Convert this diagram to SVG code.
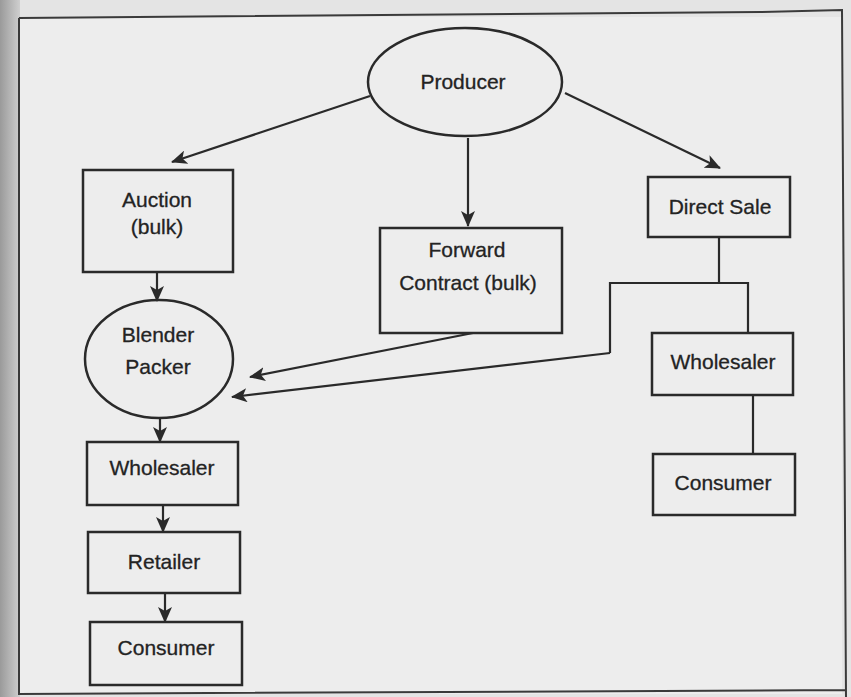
<svg xmlns="http://www.w3.org/2000/svg" width="851" height="697" viewBox="0 0 851 697">
  <defs>
    <linearGradient id="edge" x1="0" y1="0" x2="1" y2="0">
      <stop offset="0" stop-color="#9a9a9a"/>
      <stop offset="1" stop-color="#cfcfcf"/>
    </linearGradient>
    <marker id="arr" markerUnits="userSpaceOnUse" markerWidth="16" markerHeight="14" refX="15" refY="7" orient="auto">
      <path d="M0,0 L16,7 L0,14 L4,7 Z" fill="#2a2a2a"/>
    </marker>
    <style>
      .box { fill: none; stroke: #2a2a2a; stroke-width: 2.5; }
      .line { fill: none; stroke: #2a2a2a; stroke-width: 2.2; }
      .arrow { fill: none; stroke: #2a2a2a; stroke-width: 2.2; marker-end: url(#arr); }
      .lbl { font-family: "Liberation Sans", Arial, sans-serif; font-size: 21px; fill: #232323; stroke: #232323; stroke-width: 0.3; text-anchor: middle; }
    </style>
  </defs>
  <rect x="0" y="0" width="851" height="697" fill="#e4e4e4"/>
  <rect x="0" y="0" width="20" height="697" fill="url(#edge)"/>
  <rect x="19" y="17" width="823" height="677" fill="#ededed"/>
  <path d="M19,18 L760,12 L842,10 L846,697 M19,18 L19,694 L846,690" fill="none" stroke="#3a3a3a" stroke-width="2"/>

  <g id="connectors">
    <line class="arrow" x1="370" y1="96" x2="172" y2="162"/>
    <line class="arrow" x1="468" y1="138" x2="468" y2="226"/>
    <line class="arrow" x1="565" y1="93" x2="720" y2="168"/>
    <line class="arrow" x1="157" y1="272" x2="157" y2="301"/>
    <line class="arrow" x1="473" y1="333" x2="250" y2="377"/>
    <polyline class="line" points="719,237 719,283"/>
    <polyline class="line" points="748,333 748,283 610,283 610,353"/>
    <line class="arrow" x1="610" y1="353" x2="232" y2="397"/>
    <line class="arrow" x1="160" y1="418" x2="160" y2="442"/>
    <line class="arrow" x1="163" y1="505" x2="163" y2="532"/>
    <line class="arrow" x1="165" y1="593" x2="165" y2="622"/>
    <line class="line" x1="753" y1="395" x2="753" y2="454"/>
  </g>

  <g id="producer">
    <ellipse class="box" cx="465" cy="82" rx="97" ry="54"/>
    <text class="lbl" x="463" y="89">Producer</text>
  </g>
  <g id="auction">
    <rect class="box" x="83" y="170" width="150" height="102"/>
    <text class="lbl" x="157" y="207">Auction</text>
    <text class="lbl" x="157" y="234">(bulk)</text>
  </g>
  <g id="forward-contract">
    <rect class="box" x="380" y="228" width="182" height="105"/>
    <text class="lbl" x="467" y="257">Forward</text>
    <text class="lbl" x="468" y="290">Contract (bulk)</text>
  </g>
  <g id="direct-sale">
    <rect class="box" x="648" y="177" width="142" height="60"/>
    <text class="lbl" x="720" y="214">Direct Sale</text>
  </g>
  <g id="blender-packer">
    <ellipse class="box" cx="159" cy="359" rx="74" ry="59"/>
    <text class="lbl" x="158" y="342">Blender</text>
    <text class="lbl" x="158" y="374">Packer</text>
  </g>
  <g id="wholesaler-right">
    <rect class="box" x="652" y="333" width="141" height="62"/>
    <text class="lbl" x="723" y="369">Wholesaler</text>
  </g>
  <g id="consumer-right">
    <rect class="box" x="653" y="454" width="142" height="61"/>
    <text class="lbl" x="723" y="490">Consumer</text>
  </g>
  <g id="wholesaler-left">
    <rect class="box" x="87" y="442" width="151" height="63"/>
    <text class="lbl" x="162" y="475">Wholesaler</text>
  </g>
  <g id="retailer">
    <rect class="box" x="88" y="532" width="152" height="61"/>
    <text class="lbl" x="164" y="569">Retailer</text>
  </g>
  <g id="consumer-left">
    <rect class="box" x="90" y="622" width="152" height="63"/>
    <text class="lbl" x="166" y="655">Consumer</text>
  </g>
</svg>
